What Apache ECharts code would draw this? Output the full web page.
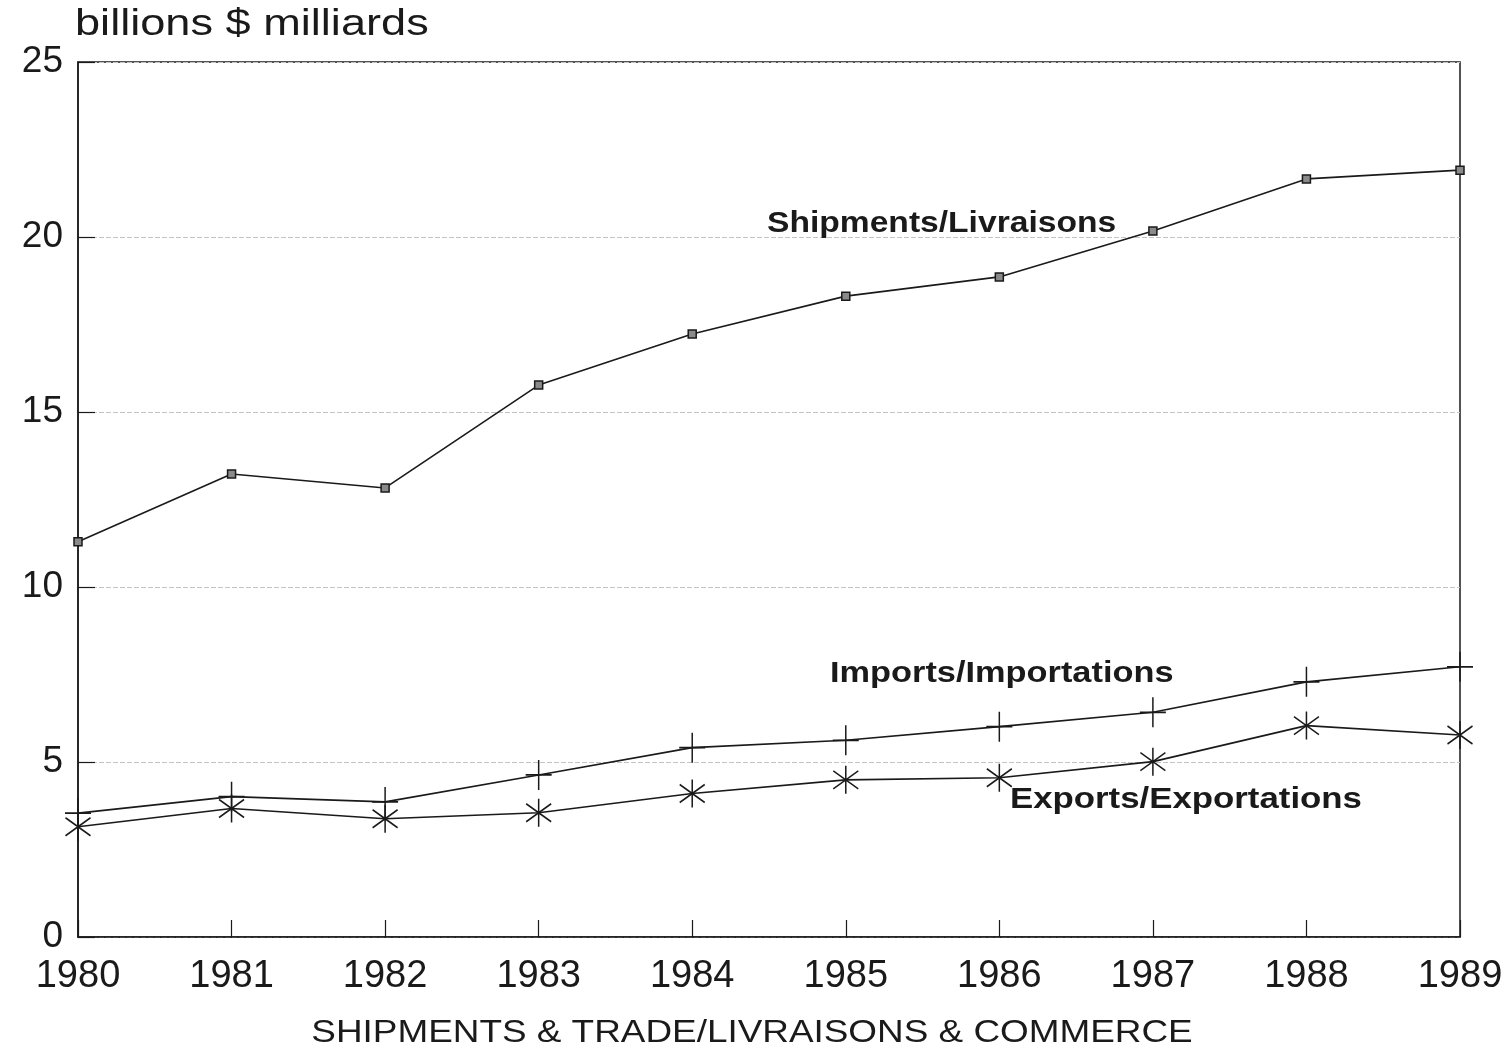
<!DOCTYPE html>
<html>
<head>
<meta charset="utf-8">
<script src="https://cdn.jsdelivr.net/npm/echarts@6/dist/echarts.min.js"></script>
<style>
html,body{margin:0;padding:0;background:#fff;}
#chart{width:1510px;height:1052px;}
</style>
</head>
<body>
<div id="chart"></div>
<script>
const years = ['1980','1981','1982','1983','1984','1985','1986','1987','1988','1989'];
const shipments = [11.29, 13.23, 12.83, 15.77, 17.23, 18.31, 18.86, 20.17, 21.66, 21.91];
const imports   = [3.54, 4.01, 3.86, 4.63, 5.41, 5.62, 6.01, 6.42, 7.29, 7.72];
const exportsV  = [3.15, 3.67, 3.38, 3.55, 4.10, 4.49, 4.55, 5.01, 6.04, 5.77];
const yTicks = [0, 5, 10, 15, 20, 25];

const FONT = '"Liberation Sans", Arial, Helvetica, sans-serif';
const INK = '#1a1a1a';

function label(text, x, y, font, sx, align) {
  return {
    type: 'text', x: x, y: y, scaleX: sx, scaleY: 1,
    style: {text: text, font: font, fill: INK, align: align || 'left', verticalAlign: 'middle'},
    z: 10
  };
}

const chart = echarts.init(document.getElementById('chart'), null, {renderer: 'canvas'});
chart.setOption({
  backgroundColor: '#ffffff',
  animation: false,
  grid: {
    left: 78, right: 50, top: 62, bottom: 115,
    show: true, borderColor: INK, borderWidth: 1.5, backgroundColor: 'transparent'
  },
  xAxis: {
    type: 'category',
    data: years,
    boundaryGap: false,
    axisLine: {show: true, lineStyle: {color: INK, width: 1.5}},
    axisTick: {show: true, inside: true, length: 17, lineStyle: {color: INK, width: 1.2}},
    axisLabel: {fontFamily: FONT, fontSize: 38, color: INK, margin: 21, interval: 0},
    splitLine: {show: false}
  },
  yAxis: {
    type: 'value',
    min: 0, max: 25, interval: 5,
    axisLine: {show: true, lineStyle: {color: INK, width: 1.5}},
    axisTick: {show: true, inside: true, length: 17, lineStyle: {color: INK, width: 1.2}},
    axisLabel: {
      fontFamily: FONT, fontSize: 37, color: INK, margin: 15,
      formatter: v => yTicks.includes(v) ? String(v) : ''
    },
    splitLine: {show: true, lineStyle: {color: '#c4c4c4', width: 1, type: [5, 2]}}
  },
  graphic: [
    label('billions $ milliards', 75, 25, 'normal 37px ' + FONT, 1.22),
    label('SHIPMENTS & TRADE/LIVRAISONS & COMMERCE', 752, 1033, 'normal 31px ' + FONT, 1.19, 'center'),
    label('Shipments/Livraisons', 767, 224, 'bold 30px ' + FONT, 1.12),
    label('Imports/Importations', 830, 674, 'bold 30px ' + FONT, 1.145),
    label('Exports/Exportations', 1010, 800, 'bold 30px ' + FONT, 1.16)
  ],
  series: [
    {
      name: 'Shipments/Livraisons', type: 'line', data: shipments,
      symbol: 'rect', symbolSize: 8,
      lineStyle: {color: INK, width: 1.6},
      itemStyle: {color: '#8a8a8a', borderColor: INK, borderWidth: 1.5},
      z: 5
    },
    {
      name: 'Imports/Importations', type: 'line', data: imports,
      symbol: 'path://M13 0 L13 30 M0 15 L26 15', symbolSize: [26, 30],
      lineStyle: {color: INK, width: 1.6},
      itemStyle: {color: INK, borderColor: INK, borderWidth: 1.6},
      z: 5
    },
    {
      name: 'Exports/Exportations', type: 'line', data: exportsV,
      symbol: 'path://M12 0 L12 28 M0 5 L24 23 M0 23 L24 5', symbolSize: [25, 28],
      lineStyle: {color: INK, width: 1.6},
      itemStyle: {color: INK, borderColor: INK, borderWidth: 1.6},
      z: 5
    }
  ]
});
</script>
</body>
</html>
